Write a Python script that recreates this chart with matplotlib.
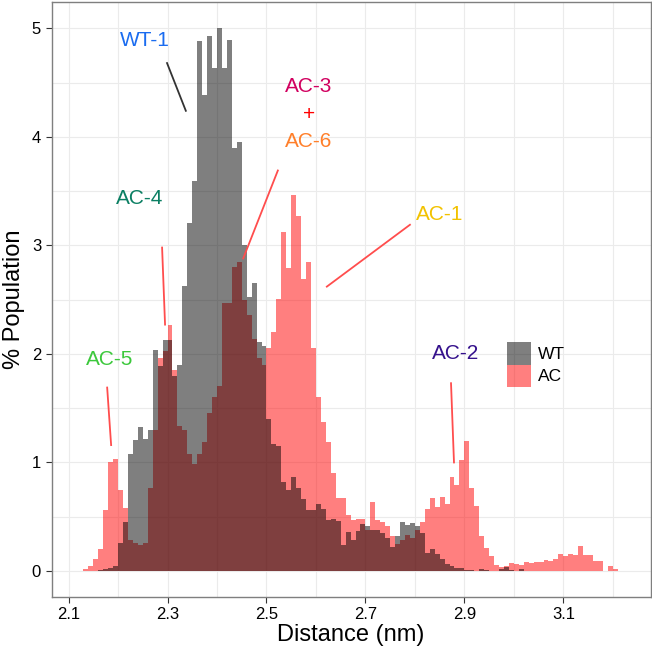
import numpy as np
import matplotlib
matplotlib.use("Agg")
import matplotlib.pyplot as plt
from matplotlib.patches import Patch

plt.rcParams['font.family'] = ['Liberation Sans', 'DejaVu Sans']

# histogram bins: 0.01 nm wide, first bin starts at 2.13 nm
bin_start = 2.13
bin_width = 0.01

# % population per bin
wt_pop = [0, 0, 0, 0.01, 0.02, 0.03, 0.05, 0.26, 0.45, 1.08,
          1.21, 1.33, 1.22, 1.30, 2.04, 1.89, 2.13, 2.13, 1.80, 1.90,
          2.63, 3.21, 3.59, 4.88, 4.39, 4.93, 4.63, 5.00, 4.63, 4.89,
          3.90, 3.95, 3.00, 2.52, 2.65, 2.11, 2.07, 1.40, 1.17, 1.15,
          0.82, 0.75, 0.87, 0.76, 0.66, 0.56, 0.56, 0.62, 0.57, 0.47,
          0.48, 0.46, 0.24, 0.36, 0.29, 0.37, 0.43, 0.41, 0.38, 0.38,
          0.35, 0.30, 0.22, 0.32, 0.45, 0.42, 0.44, 0.41, 0.35, 0.17,
          0.20, 0.16, 0.11, 0.06, 0.05, 0.03, 0.03, 0.01, 0.01, 0.0,
          0.02, 0.01, 0.0, 0.0, 0.02, 0.04, 0.01, 0.0, 0.02]

ac_pop = [0.02, 0.05, 0.11, 0.20, 0.56, 1.00, 1.03, 0.75, 0.58, 0.285,
          0.26, 0.24, 0.26, 0.76, 1.30, 1.96, 2.03, 2.27, 1.85, 1.34,
          1.30, 1.08, 0.99, 1.08, 1.19, 1.46, 1.60, 1.70, 2.47, 2.47,
          2.80, 2.85, 2.50, 2.36, 2.14, 1.96, 1.90, 2.05, 2.20, 2.51,
          3.12, 2.79, 3.46, 3.27, 2.69, 2.85, 2.05, 1.60, 1.37, 1.19,
          0.90, 0.67, 0.67, 0.52, 0.47, 0.48, 0.48, 0.38, 0.64, 0.47,
          0.45, 0.41, 0.32, 0.25, 0.29, 0.33, 0.30, 0.38, 0.45, 0.57,
          0.67, 0.59, 0.68, 0.62, 0.87, 0.79, 1.02, 1.20, 0.76, 0.60,
          0.32, 0.21, 0.14, 0.055, 0.04, 0.05, 0.07, 0.065, 0.055, 0.085,
          0.07, 0.08, 0.085, 0.10, 0.09, 0.11, 0.16, 0.14, 0.16, 0.15,
          0.23, 0.15, 0.15, 0.095, 0.095, 0.0, 0.05, 0.015]

x_ticks = [2.1, 2.3, 2.5, 2.7, 2.9, 3.1]
y_ticks = [0, 1, 2, 3, 4, 5]

# annotations: label, colour, text position, pointer line (start, end)
labels = [
    ("WT-1", "#1a6cf0", (2.254, 4.89), (2.299, 4.68), (2.337, 4.24), "#333333"),
    ("AC-1", "#f2c200", (2.851, 3.28), (2.790, 3.19), (2.622, 2.62), "#ff4d4d"),
    ("AC-4", "#0b7f63", (2.244, 3.43), (2.289, 2.98), (2.295, 2.27), "#ff4d4d"),
    ("AC-5", "#3cc83c", (2.184, 1.95), (2.178, 1.69), (2.186, 1.16), "#ff4d4d"),
    ("AC-2", "#35118c", (2.883, 2.00), (2.873, 1.73), (2.879, 1.00), "#ff4d4d"),
]

fig = plt.figure(figsize=(6.52, 6.50), dpi=100)
ax = fig.add_axes([0.079, 0.0815, 0.919, 0.915])

ac_left = bin_start + bin_width * np.arange(len(ac_pop))
wt_left = bin_start + bin_width * np.arange(len(wt_pop))
ax.bar(ac_left, ac_pop, width=bin_width, align='edge', color='red', alpha=0.5,
       linewidth=0, zorder=2)
ax.bar(wt_left, wt_pop, width=bin_width, align='edge', color='black', alpha=0.5,
       linewidth=0, zorder=3)

for text, col, pos, p0, p1, lcol in labels:
    ax.text(pos[0], pos[1], text, color=col, fontsize=15, ha='center', va='center', zorder=5)
    ax.plot([p0[0], p1[0]], [p0[1], p1[1]], color=lcol, lw=1.3, zorder=5)

# AC-3 + AC-6 stacked label
ax.text(2.586, 4.46, "AC-3", color="#d1005f", fontsize=15, ha='center', va='center', zorder=5)
ax.text(2.586, 4.21, "+", color="red", fontsize=15, ha='center', va='center', zorder=5)
ax.text(2.586, 3.96, "AC-6", color="#ff7f2a", fontsize=15, ha='center', va='center', zorder=5)
ax.plot([2.523, 2.453], [3.69, 2.88], color="#ff4d4d", lw=1.3, zorder=5)

ax.set_xlim(2.0655, 3.2766)
ax.set_ylim(-0.24, 5.24)
ax.set_xticks(x_ticks)
ax.set_yticks(y_ticks)
ax.set_xticks([2.2, 2.4, 2.6, 2.8, 3.0, 3.2], minor=True)
ax.set_yticks([0.5, 1.5, 2.5, 3.5, 4.5], minor=True)
ax.tick_params(axis='both', which='major', labelsize=12, length=4, width=0.8,
               color='#333333', labelcolor='black')
ax.tick_params(axis='both', which='minor', length=0)
ax.grid(True, which='both', color='#ebebeb', lw=0.8, zorder=0)
ax.set_axisbelow(True)
for s in ax.spines.values():
    s.set_color('#7f7f7f')
    s.set_linewidth(1.0)

ax.set_xlabel("Distance (nm)", fontsize=17, labelpad=1)
ax.set_ylabel("% Population", fontsize=17, labelpad=5)

handles = [Patch(facecolor='black', alpha=0.5, edgecolor='none'),
           Patch(facecolor='red', alpha=0.5, edgecolor='none')]
ax.legend(handles, ["WT", "AC"], loc='upper left', bbox_to_anchor=(0.748, 0.44),
          frameon=False, fontsize=12.5, handlelength=1.4, handleheight=1.6,
          handletextpad=0.4, labelspacing=0.0, borderaxespad=0)

fig.savefig("out.png", dpi=100)
